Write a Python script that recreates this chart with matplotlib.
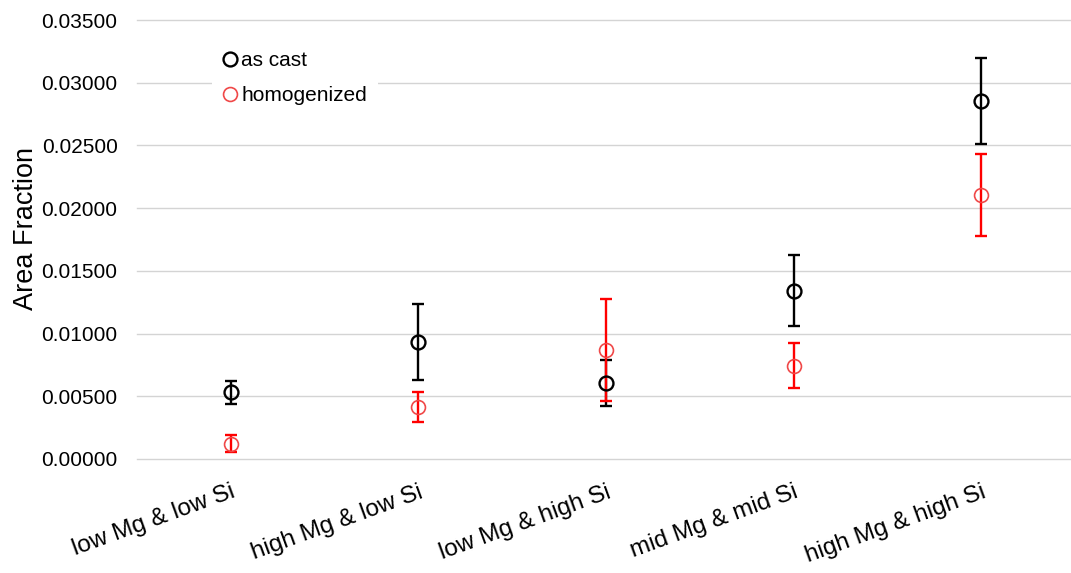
import numpy as np
import matplotlib
matplotlib.use("Agg")
import matplotlib.pyplot as plt

plt.rcParams['font.family'] = ['Liberation Sans', 'DejaVu Sans']

# =================== data ===================
categories = ["low Mg & low Si", "high Mg & low Si", "low Mg & high Si",
              "mid Mg & mid Si", "high Mg & high Si"]
as_cast = [0.00533, 0.00933, 0.00604, 0.01340, 0.02855]
as_cast_err = [0.00092, 0.00300, 0.00185, 0.00283, 0.00342]
homogenized = [0.00120, 0.00415, 0.00869, 0.00744, 0.02105]
homogenized_err = [0.00068, 0.00120, 0.00410, 0.00180, 0.00325]
yticks = [0.0, 0.005, 0.010, 0.015, 0.020, 0.025, 0.030, 0.035]

x = np.arange(len(categories))

# =================== plot ===================
fig = plt.figure(figsize=(10.71, 5.73), dpi=100)
ax = fig.add_axes([137/1071, 114/573, 938/1071, 439/573])

ax.errorbar(x, as_cast, yerr=as_cast_err, fmt='none', ecolor='black',
            elinewidth=1.7, capsize=4, capthick=1.7, zorder=3)
ax.errorbar(x, homogenized, yerr=homogenized_err, fmt='none', ecolor='#ff0000',
            elinewidth=1.7, capsize=4, capthick=1.7, zorder=3)
ax.plot(x, as_cast, 'o', ms=10, mfc='none', mec='black', mew=1.7,
        label='as cast', zorder=4)
ax.plot(x, homogenized, 'o', ms=10, mfc='none', mec='#f04848', mew=1.2,
        label='homogenized', zorder=4)

ax.set_xlim(-0.5, len(categories) - 0.5)
ax.set_ylim(0, 0.035)
ax.set_yticks(yticks)
ax.set_yticklabels(["%.5f" % v for v in yticks], fontsize=15)
ax.set_xticks(x)
ax.set_xticklabels(categories, rotation=20, ha='right', rotation_mode='anchor',
                   fontsize=17.5)
ax.tick_params(axis='y', length=0, pad=14)
ax.tick_params(axis='x', length=0, pad=16)
ax.yaxis.grid(True, color='#d4d4d4', linewidth=1.0)
for gl in ax.get_ygridlines():
    gl.set_clip_on(False)
ax.set_axisbelow(True)
for s in ax.spines.values():
    s.set_visible(False)

ax.set_ylabel("Area Fraction", fontsize=19.5, labelpad=2, y=0.525)

leg = ax.legend(loc='upper left', bbox_to_anchor=(0.08, 0.955), frameon=True,
                fontsize=15, handlelength=0.6, handletextpad=0.25,
                borderpad=0.55, labelspacing=0.75, borderaxespad=0)
leg.get_frame().set_edgecolor('none')
leg.get_frame().set_facecolor('white')
leg.get_frame().set_alpha(1)

fig.savefig("out.png", dpi=100)
